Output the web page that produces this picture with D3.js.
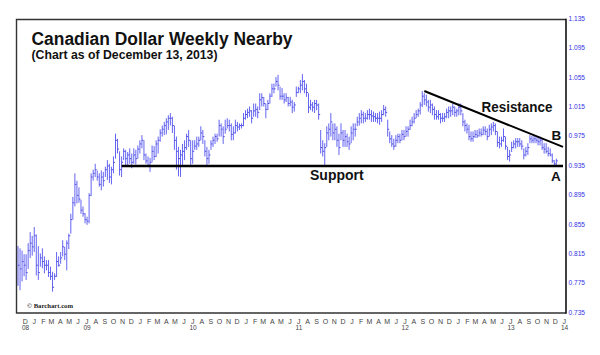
<!DOCTYPE html>
<html><head><meta charset="utf-8">
<script src="https://cdn.jsdelivr.net/npm/d3@7"></script>
<style>body{margin:0;background:#fff;}svg{display:block;}</style>
</head><body>
<svg id="chart" width="600" height="355"></svg>
<script>
// ---------- data (weekly bars, first bar week of 2008-11-10) ----------
const firstWeek = "2008-11-10";
const highs = [
.826,.823,.82,.815,.815,.83,.845,.84,.852,
.842,.826,.816,.823, .812,.807,.807,.798, .791,.789,.818,.812,.818, .834,.825,.834,.843,
.870,.893,.925,.915, .906,.889,.88,.871,.866, .898,.925,.93,.938, .929,.925,.929,.927,.934,
.943,.938,.934,.948, .979,.972,.955,.948, .959,.957,.954,.959,.952, .959,.957,.963,.97,
.977,.97,.952,.948, .946,.963,.962,.97, .975,.985,.99,.995,1.0, 1.004,1.007,1.002,.99,
.975,.961,.957,.965,.97, .979,.984,.97,.97, .97,.975,.975,.989, .984,.97,.961,.957,.97,
.975,.979,.979,.998, .993,.989,.998,1.0, .998,.993,.989,.998,.995, .993,.993,1.007,1.011,
1.013,1.016,1.011,1.02,1.02, 1.016,1.034,1.034,1.029, 1.02,1.025,1.034,1.047, 1.047,1.056,1.059,1.043,
1.041,1.034,1.034,1.029,1.029, 1.025,1.022,1.043,1.043, 1.052,1.06,1.052,1.047, 1.034,1.025,1.022,1.025,1.025,
1.02,.984,.97,.966, .989,.993,1.007,.993,.993, .989,.979,.993,.984, .984,.979,.975,.989,
.993,.993,1.002,1.007,1.011, 1.009,1.007,1.011,1.013, 1.011,1.009,1.007,1.007, 1.009,1.011,1.018,1.016,.998,
.982,.977,.972,.977, .979,.979,.984,.984, .989,.989,.998,1.002,1.007, 1.011,1.013,1.022,1.037,
1.034,1.032,1.025,1.025, 1.02,1.016,1.011,1.011,1.007, 1.007,1.007,1.013,1.016, 1.016,1.02,1.016,1.013,1.02,
1.02,1.007,.998,.993, .991,.982,.982,.984, .984,.986,.986,.989, .989,.986,.991,.993,.995,
.993,.982,.975,.975, .986,.975,.961,.957, .968,.97,.973,.973,.973, .97,.959,.961,.966,
.977,.976,.976,.975,.975, .975,.973,.966,.966, .961,.959,.952,.943, .945
];
const lows = [
.772,.766,.778,.785,.78,.795,.81,.813,.818,
.786,.78,.798,.796, .789,.793,.784,.78, .764,.78,.784,.798,.802, .812,.807,.793,.822,
.843,.862,.880,.884, .885,.870,.866,.857,.855, .857,.894,.915,.92, .915,.907,.902,.907,.92,
.916,.912,.91,.925, .945,.952,.922,.92, .943,.934,.934,.938,.932, .938,.937,.945,.952,
.959,.943,.938,.934, .927,.94,.943,.947, .952,.968,.975,.977,.978, .984,.99,.98,.957,
.93,.921,.92,.934,.943, .957,.961,.934,.938, .957,.957,.961,.97, .965,.948,.934,.938,.957,
.961,.965,.968,.975, .975,.965,.979,.986, .982,.97,.97,.979,.982, .984,.986,.989,.998,
1.0,1.002,.993,1.002,1.002, 1.0,1.011,1.016,1.016, 1.0,1.011,1.02,1.029, 1.034,1.043,1.038,1.025,
1.025,1.02,1.022,1.016,1.016, 1.007,1.009,1.029,1.034, 1.034,1.038,1.034,1.029, 1.007,1.011,1.009,1.007,1.011,
.998,.952,.948,.935, .961,.97,.975,.97,.97, .961,.95,.97,.961, .961,.961,.957,.966,
.97,.975,.989,.99,.993, .993,.995,.998,.998, .995,.995,.995,.993, .991,.995,1.004,1.002,.975,
.966,.961,.957,.961, .966,.966,.97,.97, .975,.975,.984,.989,.993, 1.0,1.002,1.005,1.015,
1.018,1.016,1.009,1.007, 1.004,.998,.998,.998,.993, .995,.995,1.0,1.0, 1.002,1.004,1.002,1.002,1.004,
1.004,.989,.982,.979, .97,.968,.968,.973, .973,.975,.975,.977, .977,.97,.975,.977,.982,
.977,.961,.959,.961, .968,.957,.943,.941, .954,.959,.959,.961,.961, .957,.944,.948,.95,
.966,.966,.966,.966,.963, .963,.957,.952,.952, .948,.948,.939,.934, .936
];
const closes = [
.80,.795,.805,.80,.79,.82,.83,.825,.84,
.80,.79,.81,.805, .80,.80,.79,.785, .77,.785,.805,.80,.81, .825,.815,.83,.84,
.862,.885,.91,.895, .89,.875,.87,.862,.86, .895,.92,.925,.93, .92,.91,.92,.915,.93,
.935,.92,.93,.94, .97,.958,.93,.94, .955,.945,.95,.945,.94, .95,.945,.958,.965,
.97,.95,.942,.936, .94,.955,.948,.965, .97,.98,.985,.99,.995, 1.0,1.0,.99,.97,
.955,.945,.95,.955,.96, .975,.97,.945,.955, .962,.965,.97,.98, .975,.955,.945,.95,.965,
.97,.975,.972,.99, .985,.975,.985,.99, .99,.978,.98,.99,.988, .99,.99,1.0,1.005,
1.008,1.01,1.0,1.01,1.012, 1.008,1.025,1.028,1.02, 1.012,1.02,1.03,1.04, 1.04,1.05,1.045,1.03,
1.03,1.025,1.028,1.02,1.022, 1.015,1.018,1.035,1.04, 1.045,1.05,1.04,1.035, 1.015,1.018,1.015,1.02,1.018,
1.005,.96,.955,.96, .98,.985,.995,.98,.985, .97,.96,.98,.97, .975,.968,.965,.98,
.985,.985,.995,1.0,1.005, 1.0,1.0,1.005,1.005, 1.003,1.002,1.0,1.0, 1.0,1.005,1.012,1.008,.985,
.972,.965,.962,.97, .975,.97,.978,.975, .982,.985,.99,.995,1.0, 1.005,1.01,1.018,1.03,
1.025,1.022,1.015,1.018, 1.012,1.005,1.002,1.005,1.0, 1.0,1.002,1.008,1.01, 1.01,1.015,1.008,1.01,1.015,
1.01,.995,.99,.985, .975,.972,.975,.978, .976,.98,.978,.984, .982,.975,.985,.988,.99,
.982,.967,.965,.97, .975,.962,.948,.95, .96,.965,.968,.968,.965, .962,.95,.955,.96,
.972,.97,.972,.97,.968, .97,.96,.958,.955, .952,.95,.942,.938, .942
];

// axis / tick labels
const yTicks = [0.735,0.775,0.815,0.855,0.895,0.935,0.975,1.015,1.055,1.095,1.135];
const monthLetters = ["J","F","M","A","M","J","J","A","S","O","N","D"];
const yearLabels = ["08","09","10","11","12","13","14"];
const yearLabelDates = ["2008-12-01","2009-07-01","2010-07-01","2011-07-01","2012-07-01","2013-07-01","2014-01-01"];

// trend lines
const supportLevel = 0.935;
const supportDates = ["2009-11-02","2014-01-01"];
const resistanceDates = ["2012-09-10","2014-01-01"];
const resistanceValues = [1.037, 0.961];

// ---------- drawing ----------
const parse = d3.timeParse("%Y-%m-%d");
const svg = d3.select("#chart");
const L = 16.5, T = 19.5, R = 566, B = 313;

const x = d3.scaleTime()
  .domain([parse("2008-11-10"), parse("2014-01-01")])
  .range([18, 563]);
const y = d3.scaleLinear().domain([0.735, 1.135]).range([B, 19]);

const start = parse(firstWeek);
const bars = closes.map((c, i) => ({
  date: d3.timeDay.offset(start, 7 * i), h: highs[i], l: lows[i], c: c
}));

svg.append("rect").attr("width", 600).attr("height", 355).attr("fill", "#fff");

// bars
const g = svg.append("g").attr("stroke-width", 1);
g.selectAll("line.hl").data(bars).join("line").attr("class", "hl")
  .attr("stroke", "#6464f2")
  .attr("x1", d => x(d.date)).attr("x2", d => x(d.date))
  .attr("y1", d => y(d.h)).attr("y2", d => y(d.l));
g.selectAll("line.cl").data(bars).join("line").attr("class", "cl")
  .attr("stroke", "#4a4ae0")
  .attr("x1", d => x(d.date)).attr("x2", d => x(d.date) + 1.5)
  .attr("y1", d => y(d.c)).attr("y2", d => y(d.c));

// frame
svg.append("path")
  .attr("d", `M${R},${T}H${L}V${B}H${R}`)
  .attr("fill", "none").attr("stroke", "#333").attr("stroke-width", 1.4);
svg.append("line").attr("x1", R).attr("x2", R).attr("y1", T - 0.7).attr("y2", B + 0.7)
  .attr("stroke", "#111").attr("stroke-width", 1.6);

// right axis labels
svg.append("g").selectAll("text").data(yTicks).join("text")
  .attr("x", R + 2.5).attr("y", d => y(d))
  .attr("dominant-baseline", "middle")
  .attr("font-family", "Liberation Sans, Arial, sans-serif")
  .attr("font-size", 6.6).attr("fill", "#3434e6")
  .text(d3.format(".3f"));

// month letters
const months = d3.timeMonth.range(parse("2008-12-01"), parse("2014-01-02"));
svg.append("g").selectAll("text").data(months).join("text")
  .attr("x", d => x(d) + 1.2).attr("y", 323.5)
  .attr("text-anchor", "middle")
  .attr("font-family", "Liberation Sans, Arial, sans-serif")
  .attr("font-size", 7).attr("fill", "#444")
  .text(d => monthLetters[d.getMonth()]);
svg.append("g").selectAll("text").data(yearLabels).join("text")
  .attr("x", (d, i) => x(parse(yearLabelDates[i])) + 1.5).attr("y", 329.5)
  .attr("text-anchor", "middle")
  .attr("font-family", "Liberation Sans, Arial, sans-serif")
  .attr("font-size", 6.5).attr("fill", "#444")
  .text(d => d);

// trend lines
svg.append("line")
  .attr("x1", x(parse(supportDates[0]))).attr("x2", x(parse(supportDates[1])))
  .attr("y1", y(supportLevel)).attr("y2", y(supportLevel))
  .attr("stroke", "#000").attr("stroke-width", 2.4);
svg.append("line")
  .attr("x1", x(parse(resistanceDates[0]))).attr("x2", x(parse(resistanceDates[1])))
  .attr("y1", y(resistanceValues[0])).attr("y2", y(resistanceValues[1]))
  .attr("stroke", "#000").attr("stroke-width", 2);

// texts
const sans = "Liberation Sans, Arial, sans-serif";
svg.append("text").attr("x", 31.5).attr("y", 45).attr("font-family", sans)
  .attr("font-weight", "bold").attr("font-size", 17.5).attr("fill", "#111")
  .attr("textLength", 261).attr("lengthAdjust", "spacingAndGlyphs")
  .text("Canadian Dollar Weekly Nearby");
svg.append("text").attr("x", 31.5).attr("y", 59).attr("font-family", sans)
  .attr("font-weight", "bold").attr("font-size", 12.2).attr("fill", "#111")
  .attr("textLength", 186).attr("lengthAdjust", "spacingAndGlyphs")
  .text("(Chart as of December 13, 2013)");
svg.append("text").attr("x", 310).attr("y", 180).attr("font-family", sans)
  .attr("font-weight", "bold").attr("font-size", 14).attr("fill", "#111")
  .text("Support");
svg.append("text").attr("x", 481.5).attr("y", 111.5).attr("font-family", sans)
  .attr("font-weight", "bold").attr("font-size", 14).attr("fill", "#111")
  .attr("textLength", 71).attr("lengthAdjust", "spacingAndGlyphs")
  .text("Resistance");
svg.append("text").attr("x", 551.5).attr("y", 140).attr("font-family", sans)
  .attr("font-weight", "bold").attr("font-size", 13.5).attr("fill", "#111")
  .text("B");
svg.append("text").attr("x", 551).attr("y", 180.5).attr("font-family", sans)
  .attr("font-weight", "bold").attr("font-size", 13.5).attr("fill", "#111")
  .text("A");
svg.append("text").attr("x", 27).attr("y", 308).attr("font-family", "Liberation Serif, Times New Roman, serif")
  .attr("font-weight", "bold").attr("font-size", 7).attr("fill", "#222")
  .attr("textLength", 46).attr("lengthAdjust", "spacingAndGlyphs")
  .text("© Barchart.com");
</script>
</body></html>
